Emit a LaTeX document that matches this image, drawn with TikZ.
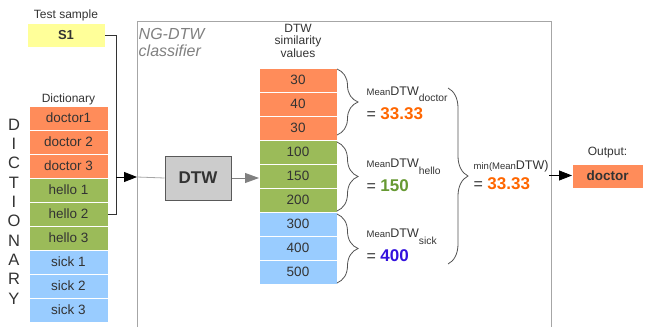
\documentclass[tikz,border=0pt]{standalone}
\usepackage{fontspec}
\setmainfont{Liberation Sans}
\usetikzlibrary{arrows.meta,positioning,decorations.pathreplacing}
\definecolor{orng}{HTML}{FF8C5A}
\definecolor{grn}{HTML}{9BBB59}
\definecolor{blu}{HTML}{99CCFF}
\definecolor{ylw}{HTML}{FFFF99}
\definecolor{txt}{HTML}{333333}
\definecolor{numorg}{HTML}{FF6600}
\definecolor{numgrn}{HTML}{669933}
\definecolor{numblu}{HTML}{3311DD}
\definecolor{clfgray}{HTML}{808080}
\newcommand{\mdtw}[1]{{\fontsize{9.5}{11}\selectfont Mean}DTW\raisebox{-6.5pt}{\fontsize{10.3}{12}\selectfont #1}}
\newcommand{\mval}[2]{{\fontsize{16}{20}\selectfont= \bfseries\fontsize{17}{20}\selectfont\color{#1}#2}}

\begin{document}
\begin{tikzpicture}[x=1pt, y=-1pt,
  cell/.style={draw=white, line width=0.8pt, minimum width=79pt, minimum height=24pt,
    inner sep=0pt, outer sep=0pt, text=txt, font=\fontsize{13.5}{16}\selectfont},
  vcell/.style={cell, minimum width=78pt},
  lab/.style={text=txt, inner sep=0.5pt, align=center, font=\fontsize{12}{12.5}\selectfont},
  mtxt/.style={anchor=west, text=txt, inner sep=0.5pt, align=left, font=\fontsize{12.5}{24}\selectfont},
  brc/.style={draw=txt!85, line width=0.8pt, decorate, decoration={brace, amplitude=21pt}},
  feed/.style={draw=txt, line width=0.8pt},
  blkarr/.style={draw=black, line width=0.8pt, -{Triangle[length=13pt,width=10pt]}},
  grayarr/.style={draw=clfgray, line width=0.8pt, -{Triangle[length=14pt,width=10pt,fill=clfgray]}}]
  \useasboundingbox (0,0) rectangle (648,327);
  \draw[draw=black!35, line width=1pt] (137,327) |- (551,21) -- (551,327);
  \node[anchor=north west, inner sep=0pt, align=left, text=clfgray,
    font=\fontsize{16}{17.5}\selectfont\itshape] (clflab) at (138.5,28) {NG-DTW\\classifier};

  \node[cell, fill=ylw, minimum width=78pt, font=\fontsize{13}{16}\selectfont\bfseries] (smp) at (66,35) {S1};
  \node[lab, above=1pt of smp] (smplab) {Test sample};

  \node[cell, fill=orng] (d1) at (68.5,118) {doctor1};
  \node[cell, fill=orng, below=0pt of d1] (d2) {doctor 2};
  \node[cell, fill=orng, below=0pt of d2] (d3) {doctor 3};
  \node[cell, fill=grn, below=0pt of d3] (h1) {hello 1};
  \node[cell, fill=grn, below=0pt of h1] (h2) {hello 2};
  \node[cell, fill=grn, below=0pt of h2] (h3) {hello 3};
  \node[cell, fill=blu, below=0pt of h3] (s1) {sick 1};
  \node[cell, fill=blu, below=0pt of s1] (s2) {sick 2};
  \node[cell, fill=blu, below=0pt of s2] (s3) {sick 3};
  \node[lab, above=0pt of d1] (dictlab) {Dictionary};
  \node[text=txt, inner sep=0pt, align=center, font=\fontsize{16.5}{19.3}\selectfont] (dictv) at (14,211.5)
    {D\\I\\C\\T\\I\\O\\N\\A\\R\\Y};

  \node[draw=black!65, fill=black!20, line width=1pt, minimum width=66pt, minimum height=44pt,
    text=txt, font=\fontsize{17}{20}\selectfont\bfseries] (dtw) at (198,178) {DTW};

  \node[vcell, fill=orng] (v1) at (298,80) {30};
  \node[vcell, fill=orng, below=0pt of v1] (v2) {40};
  \node[vcell, fill=orng, below=0pt of v2] (v3) {30};
  \node[vcell, fill=grn, below=0pt of v3] (v4) {100};
  \node[vcell, fill=grn, below=0pt of v4] (v5) {150};
  \node[vcell, fill=grn, below=0pt of v5] (v6) {200};
  \node[vcell, fill=blu, below=0pt of v6] (v7) {300};
  \node[vcell, fill=blu, below=0pt of v7] (v8) {400};
  \node[vcell, fill=blu, below=0pt of v8] (v9) {500};
  \node[lab, above=10pt of v1] (vlab) {DTW\\similarity\\values};

  \draw[brc] ([yshift=-1pt]v1.north east) -- ([yshift=5pt]v3.south east);
  \draw[brc] ([yshift=-2pt]v4.north east) -- ([yshift=1pt]v6.south east);
  \draw[brc] ([yshift=-2pt]v7.north east) -- ([yshift=1pt]v9.south east);
  \node[mtxt] (mdoc) at (366,103) {\mdtw{doctor}\\\mval{numorg}{33.33}};
  \node[mtxt] (mhel) at (366,175.5) {\mdtw{hello}\\\mval{numgrn}{150}};
  \node[mtxt] (msck) at (366,245.5) {\mdtw{sick}\\\mval{numblu}{400}};

  \coordinate (bt) at (448,88);
  \coordinate (bb) at (448,264);
  \draw[brc, decoration={amplitude=20pt}] (bt) -- (bb);
  \node[mtxt, font=\fontsize{12.5}{20}\selectfont] (mmin) at (473,175.5)
    {{\fontsize{9.5}{11}\selectfont min(Mean}DTW)\\\mval{numorg}{33.33}};

  \node[cell, fill=orng, minimum width=71pt, font=\fontsize{13.5}{16}\selectfont\bfseries] (out) at (607.5,176) {doctor};
  \node[lab, above=5pt of out] (outlab) {Output:};

  \coordinate (mrg) at (116,177);
  \coordinate (cin) at (137,177);
  \draw[feed] (smp.east) -| (mrg);
  \draw[feed] (h2.east) -| (mrg);
  \draw[blkarr] (mrg) -- (cin);
  \draw[draw=clfgray!70, line width=0.8pt] (cin) -- (dtw.west);
  \draw[grayarr] (dtw.east) -- (dtw.east -| v5.west);
  \draw[blkarr] (mmin.east) -- (mmin.east -| out.west);
\end{tikzpicture}
\end{document}
